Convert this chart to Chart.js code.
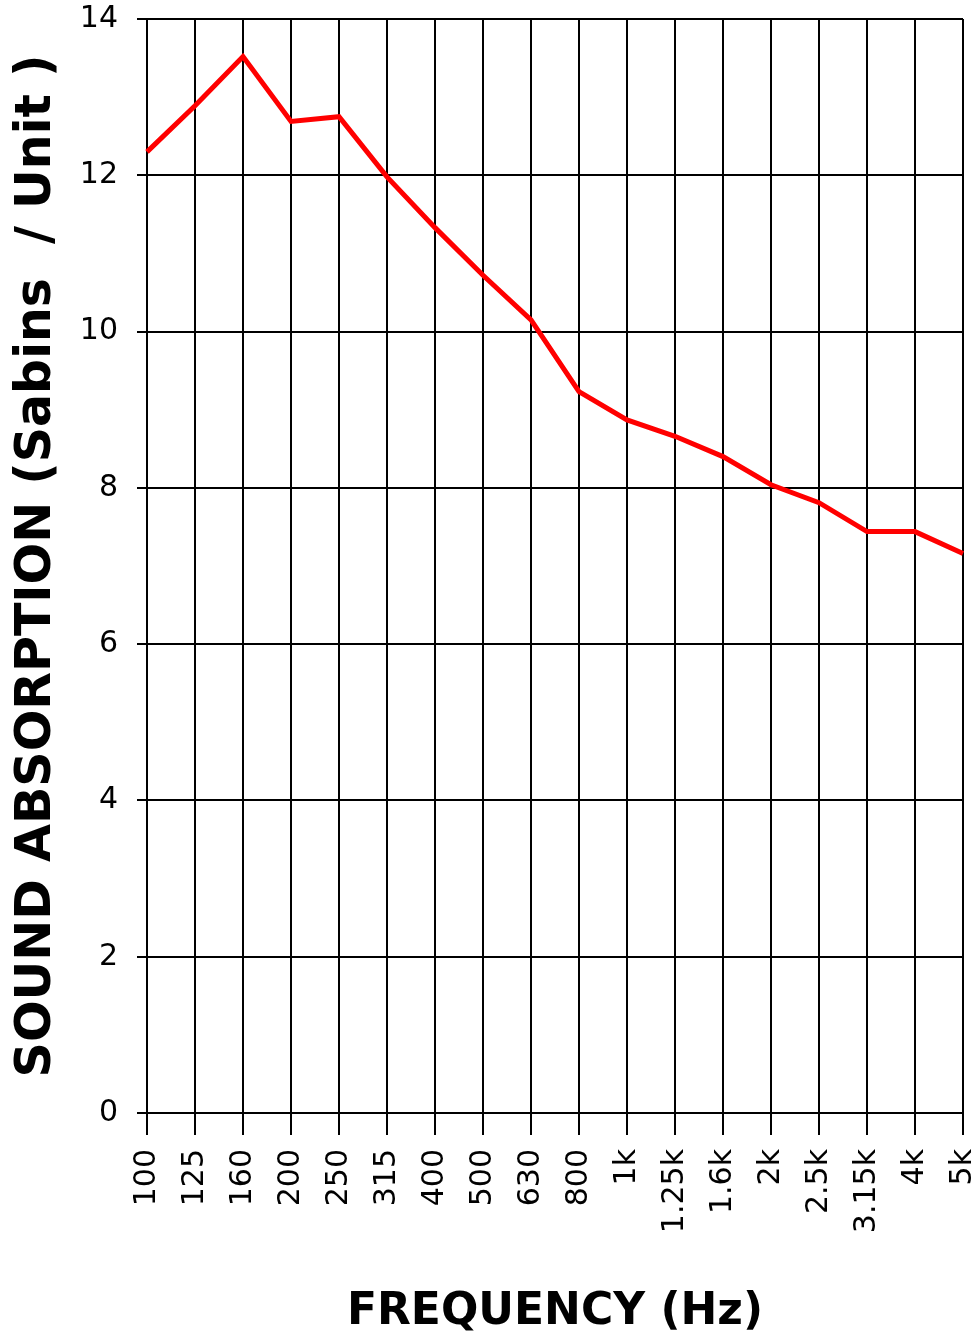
<!DOCTYPE html>
<html>
<head>
<meta charset="utf-8">
<script src="https://cdn.jsdelivr.net/npm/chart.js@4"></script>
<style>
  html, body { margin: 0; padding: 0; background: #fff; }
  canvas { display: block; }
</style>
</head>
<body>
<canvas id="absorption" width="978" height="1335"></canvas>
<script>
// one-third octave bands
var frequencies = ["100", "125", "160", "200", "250", "315", "400", "500", "630",
  "800", "1k", "1.25k", "1.6k", "2k", "2.5k", "3.15k", "4k", "5k"];
// sabins per unit
var sabins = [12.30, 12.89, 13.52, 12.69, 12.75, 11.98, 11.33, 10.72, 10.15,
  9.23, 8.87, 8.66, 8.40, 8.04, 7.81, 7.44, 7.44, 7.16];
var yTicks = [0, 2, 4, 6, 8, 10, 12, 14];

new Chart("absorption", {
  type: "line",
  data: {
    labels: frequencies,
    datasets: [{
      data: sabins,
      borderColor: "#ff0000",
      borderWidth: 5,
      pointRadius: 0,
      tension: 0,
      fill: false
    }]
  },
  options: {
    responsive: false,
    animation: false,
    devicePixelRatio: 1,
    layout: { padding: { top: 19, right: 15, left: 4, bottom: 0 } },
    plugins: {
      legend: { display: false },
      tooltip: { enabled: false }
    },
    scales: {
      x: {
        offset: false,
        grid: { color: "#000", lineWidth: 2, tickLength: 22, drawTicks: true },
        border: { color: "#000", width: 2 },
        ticks: {
          color: "#000",
          font: { family: "DejaVu Sans", size: 30 },
          minRotation: 90,
          maxRotation: 90,
          padding: 14,
          autoSkip: false
        },
        title: {
          display: true,
          text: "FREQUENCY (Hz)",
          color: "#000",
          font: { family: "DejaVu Sans", size: 44, weight: "bold" },
          padding: { top: 0, bottom: -4 }
        },
        afterFit: function (scale) {
          scale.height = 222;
          scale.paddingLeft = 0;
          scale.paddingRight = 0;
        }
      },
      y: {
        min: 0,
        max: 14,
        afterBuildTicks: function (scale) {
          scale.ticks = yTicks.map(function (v) { return { value: v }; });
        },
        grid: { color: "#000", lineWidth: 2, tickLength: 10, drawTicks: true },
        border: { color: "#000", width: 2 },
        ticks: {
          color: "#000",
          font: { family: "DejaVu Sans", size: 30 },
          padding: 19
        },
        title: {
          display: true,
          text: "SOUND ABSORPTION (Sabins  / Unit )",
          color: "#000",
          font: { family: "DejaVu Sans", size: 49, weight: "bold" },
          padding: { top: 4, bottom: 0 }
        },
        afterFit: function (scale) {
          scale.width = 143;
          scale.paddingTop = 0;
          scale.paddingBottom = 0;
        }
      }
    }
  }
});
</script>
</body>
</html>
